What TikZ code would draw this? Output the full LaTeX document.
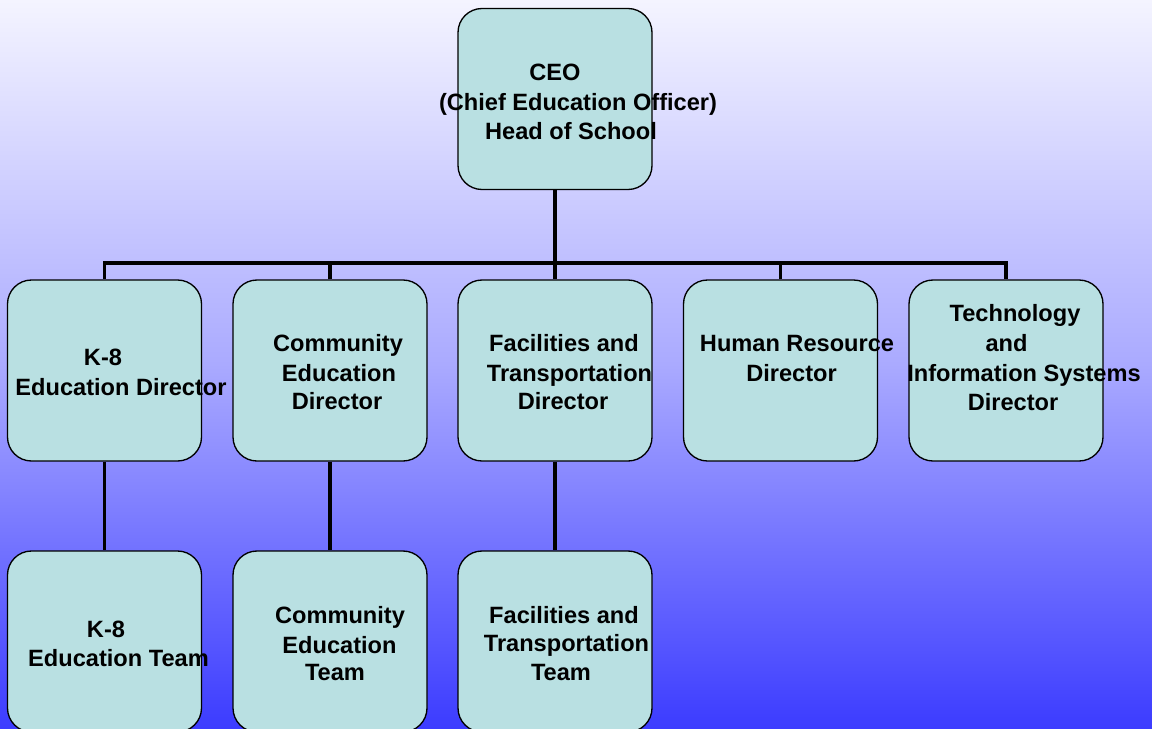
\documentclass[tikz,border=0pt]{standalone}
\usepackage{fontspec}
\setmainfont{Liberation Sans}
\begin{document}
\definecolor{bgtop}{RGB}{244,244,255}
\definecolor{bgmid}{RGB}{170,170,255}
\definecolor{bgbot}{RGB}{60,60,255}
\definecolor{boxfill}{RGB}{185,224,226}
\begin{tikzpicture}[x=0.75pt,y=-0.75pt,
  orgbox/.style={draw=black,fill=boxfill,line width=1pt,rounded corners=18pt,
    rectangle,inner sep=0pt,minimum width=145.5pt,minimum height=135.75pt},
  lbl/.style={anchor=base,inner sep=0pt,font=\fontsize{17.7}{21}\selectfont\bfseries},
  link/.style={draw=black,line width=2.3pt}]
% background
\shade[top color=bgtop,bottom color=bgmid,shading angle=0] (0,0) rectangle (1152,364);
\shade[top color=bgmid,bottom color=bgbot] (0,364) rectangle (1152,728);
\useasboundingbox (0,0) rectangle (1152,728);

% boxes
\node[orgbox] (ceo)   at (555,99) {};
\node[orgbox] (k8d)   at (104.5,370.5) {};
\node[orgbox] (comd)  at (330,370.5) {};
\node[orgbox] (facd)  at (555,370.5) {};
\node[orgbox] (hrd)   at (780.5,370.5) {};
\node[orgbox] (techd) at (1006,370.5) {};
\node[orgbox] (k8t)   at (104.5,641.5) {};
\node[orgbox] (comt)  at (330,641.5) {};
\node[orgbox] (fact)  at (555,641.5) {};

% connectors
\coordinate (bus) at (555,263);
\draw[link] (ceo.south) -- (bus);
\draw[link] (k8d.north) |- (techd.north |- bus) -- (techd.north);
\draw[link] (comd.north) -- (comd.north |- bus);
\draw[link] (facd.north) -- (bus);
\draw[link] (hrd.north) -- (hrd.north |- bus);
\draw[link] (k8d.south) -- (k8t.north);
\draw[link] (comd.south) -- (comt.north);
\draw[link] (facd.south) -- (fact.north);

% labels
\node[lbl] (ceo1) at (555,80.5) {CEO};
\node[lbl] (ceo2) at (578,110.5) {(Chief Education Officer)};
\node[lbl] (ceo3) at (571,139.5) {Head of School};

\node[lbl] (k8d1) at (103,365.5) {K-8};
\node[lbl] (k8d2) at (121,395.5) {Education Director};

\node[lbl] (comd1) at (338,351.5) {Community};
\node[lbl] (comd2) at (339,381.5) {Education};
\node[lbl] (comd3) at (337,409.5) {Director};

\node[lbl] (facd1) at (564,351.5) {Facilities and};
\node[lbl] (facd2) at (569.5,381.5) {Transportation};
\node[lbl] (facd3) at (563,409.5) {Director};

\node[lbl] (hrd1) at (797,351.5) {Human Resource};
\node[lbl] (hrd2) at (791.5,381.5) {Director};

\node[lbl] (techd1) at (1015,321.5) {Technology};
\node[lbl] (techd2) at (1006.5,351.5) {and};
\node[lbl] (techd3) at (1024,381.5) {Information Systems};
\node[lbl] (techd4) at (1013,410.5) {Director};

\node[lbl] (k8t1) at (106,637.5) {K-8};
\node[lbl] (k8t2) at (118.5,666.5) {Education Team};

\node[lbl] (comt1) at (340,623.5) {Community};
\node[lbl] (comt2) at (339.5,653.5) {Education};
\node[lbl] (comt3) at (335,680.5) {Team};

\node[lbl] (fact1) at (564,623.5) {Facilities and};
\node[lbl] (fact2) at (566.5,651.5) {Transportation};
\node[lbl] (fact3) at (561,680.5) {Team};
\end{tikzpicture}
\end{document}
